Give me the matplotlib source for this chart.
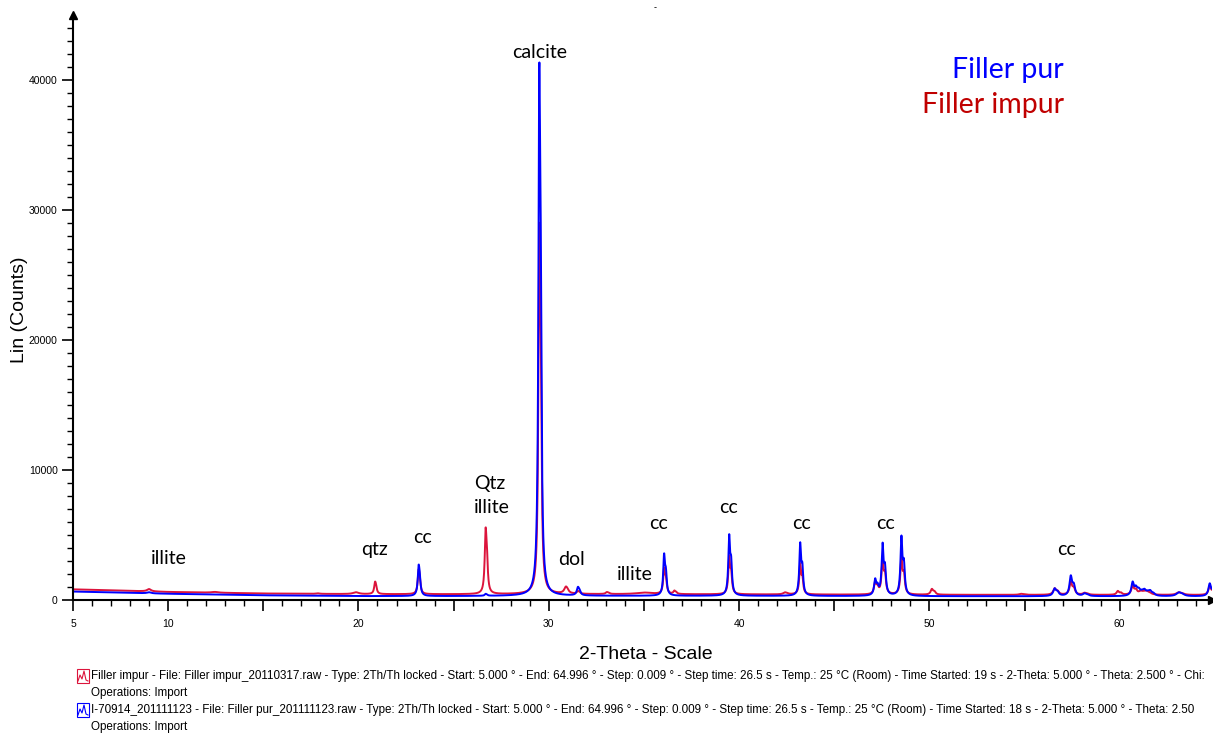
import numpy as np
import matplotlib.pyplot as plt
from matplotlib.patches import Rectangle
from matplotlib.lines import Line2D

# 2-theta scan, step 0.009 deg
two_theta = np.arange(5.0, 64.996, 0.009)

# background (counts) at a few angles
bg_angles = [5, 10, 15, 20, 25, 30, 40, 50, 65]
bg_impur = [820, 620, 500, 450, 440, 450, 430, 400, 380]
bg_pur = [650, 480, 360, 300, 300, 320, 320, 290, 280]

# peaks: position (deg), apex height above background (counts), fwhm (deg)
impur_pos = [8.99, 12.45, 17.85, 19.85, 20.87, 23.16, 26.68, 29.50, 30.89, 31.53, 33.05,
             35.0, 36.06, 36.60, 39.48, 42.40, 43.21, 47.15, 47.54, 48.53, 50.13, 54.8,
             56.58, 57.43, 58.15, 59.90, 60.68, 61.10, 61.40, 63.10, 64.73]
impur_height = [180, 60, 40, 140, 950, 1900, 5100, 28400, 520, 200, 150,
                120, 2050, 250, 3000, 150, 2400, 1000, 2900, 3000, 450, 80,
                500, 1000, 150, 300, 700, 250, 250, 200, 700]
impur_fwhm = [0.25, 0.4, 0.2, 0.35, 0.11, 0.11, 0.11, 0.11, 0.2, 0.14, 0.15,
              1.0, 0.11, 0.12, 0.11, 0.2, 0.11, 0.13, 0.12, 0.12, 0.15, 0.2,
              0.18, 0.16, 0.2, 0.15, 0.16, 0.25, 0.25, 0.3, 0.16]

pur_pos = [8.99, 23.16, 26.68, 29.50, 31.53, 36.06, 39.48, 43.21, 47.15, 47.54, 48.53,
           56.58, 57.43, 58.15, 60.68, 61.00, 61.30, 61.60, 63.10, 64.73]
pur_height = [80, 2400, 150, 40800, 650, 3270, 4750, 4130, 1250, 4030, 4640,
              600, 1600, 200, 1080, 450, 400, 350, 300, 1000]
pur_fwhm = [0.25, 0.11, 0.11, 0.11, 0.14, 0.11, 0.11, 0.11, 0.13, 0.12, 0.12,
            0.18, 0.16, 0.2, 0.16, 0.2, 0.2, 0.2, 0.3, 0.16]

KA2_RATIO = 0.5


def pattern(bg, pos, height, fwhm):
    y = np.interp(two_theta, bg_angles, bg).astype(float)
    for p, h, w in zip(pos, height, fwhm):
        # Cu K-alpha2 companion line sits slightly above K-alpha1
        d = 0.2877 * np.tan(np.radians(p / 2))
        a1 = h / (1 + KA2_RATIO / (1 + (2 * d / w) ** 2))
        y += a1 / (1 + (2 * (two_theta - p) / w) ** 2)
        y += KA2_RATIO * a1 / (1 + (2 * (two_theta - p - d) / w) ** 2)
    return y


impur = pattern(bg_impur, impur_pos, impur_height, impur_fwhm)
pur = pattern(bg_pur, pur_pos, pur_height, pur_fwhm)

# phase labels: text, 2-theta, counts, alignment
labels = [('calcite', 29.54, 42150, 'center'), ('illite', 10.04, 3230, 'center'),
          ('qtz', 20.82, 3850, 'center'), ('cc', 23.34, 4770, 'center'),
          ('Qtz', 26.07, 9000, 'left'), ('illite', 26.07, 7150, 'left'),
          ('dol', 31.22, 3150, 'center'), ('illite', 34.53, 2000, 'center'),
          ('cc', 35.79, 5920, 'center'), ('cc', 39.42, 7080, 'center'),
          ('cc', 43.26, 5850, 'center'), ('cc', 47.72, 5850, 'center'),
          ('cc', 57.18, 3920, 'center')]

red = '#dc143c'
blue = '#0000ff'

fig = plt.figure(figsize=(12.13, 7.34), dpi=100)
ax = fig.add_axes([0.06018, 0.18256, 0.93899, 0.79700])

ax.plot(two_theta, impur, color=red, lw=1.4)
ax.plot(two_theta, pur, color=blue, lw=1.4)

ax.set_xlim(5, 64.85)
ax.set_ylim(0, 45000)

for s in ['top', 'right']:
    ax.spines[s].set_visible(False)
for s in ['left', 'bottom']:
    ax.spines[s].set_linewidth(1.5)

ax.set_xticks(np.arange(5, 65, 5))
ax.set_xticklabels(['5' if t == 5 else (str(t) if t % 10 == 0 else '') for t in range(5, 65, 5)])
ax.set_xticks(np.arange(5, 65, 1), minor=True)
ax.set_yticks(np.arange(0, 45000, 10000))
ax.set_yticks(np.arange(0, 45000, 1000), minor=True)
ax.tick_params(axis='both', which='major', length=8, width=1.2, labelsize=7.5,
               labelfontfamily='Liberation Sans')
ax.tick_params(axis='both', which='minor', length=4.5, width=1.0)
ax.tick_params(axis='x', which='major', pad=6)
ax.tick_params(axis='y', which='major', pad=3)

# arrow heads on the axes
ax.plot(0, 1, marker='^', color='black', ms=6, transform=ax.transAxes, clip_on=False)
ax.plot(1, 0, marker='>', color='black', ms=6, transform=ax.transAxes, clip_on=False)

ax.set_ylabel('Lin (Counts)', fontsize=14, family='Liberation Sans')
ax.yaxis.set_label_coords(-0.0395, 0.496)
ax.set_xlabel('2-Theta - Scale', fontsize=14, family='Liberation Sans')
ax.xaxis.set_label_coords(0.5026, -0.0786)

for txt, x, y, ha in labels:
    ax.text(x, y, txt, ha=ha, va='center', fontsize=14, family='Lato')

fig.text(1064 / 1213, 1 - 70 / 734, 'Filler pur', color=blue, fontsize=20.5,
         family='Lato', ha='right', va='center')
fig.text(1064 / 1213, 1 - 105 / 734, 'Filler impur', color='#c00000', fontsize=20.5,
         family='Lato', ha='right', va='center')
fig.text(655 / 1213, 1 - 8 / 734, '-', fontsize=6, ha='center', va='center')

# scan info below the plot
info = [
    (red, 676, 'Filler impur - File: Filler impur_20110317.raw - Type: 2Th/Th locked - Start: 5.000 ° - End: 64.996 ° - Step: 0.009 ° - Step time: 26.5 s - Temp.: 25 °C (Room) - Time Started: 19 s - 2-Theta: 5.000 ° - Theta: 2.500 ° - Chi:'),
    (blue, 710, 'I-70914_201111123 - File: Filler pur_201111123.raw - Type: 2Th/Th locked - Start: 5.000 ° - End: 64.996 ° - Step: 0.009 ° - Step time: 26.5 s - Temp.: 25 °C (Room) - Time Started: 18 s - 2-Theta: 5.000 ° - Theta: 2.50'),
]
W, H = 1213, 734
for col, yc, txt in info:
    fig.add_artist(Rectangle((77 / W, 1 - (yc + 7) / H), 12 / W, 14 / H, transform=fig.transFigure,
                             fill=False, edgecolor=col, lw=0.8))
    zx = np.array([78, 80, 82, 84, 86, 88]) / W
    zy = 1 - (yc + np.array([5, -1, 3, -5, 4, 5])) / H
    fig.add_artist(Line2D(zx, zy, color=col, lw=0.8, transform=fig.transFigure))
    fig.text(91 / W, 1 - yc / H, txt, fontsize=8.4, family='Liberation Sans', va='center')
    fig.text(91 / W, 1 - (yc + 17) / H, 'Operations: Import', fontsize=8.4,
             family='Liberation Sans', va='center')

fig.savefig('out.png', dpi=100)
